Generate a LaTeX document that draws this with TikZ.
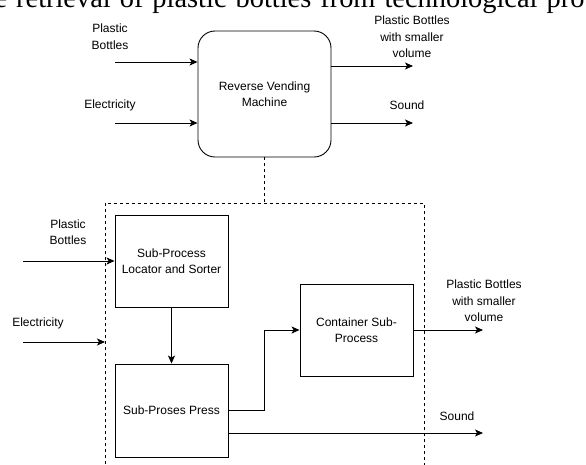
\documentclass[tikz,border=0pt]{standalone}
\usepackage{fontspec}
\setmainfont{Liberation Sans}
\newfontfamily\titlefont{Liberation Serif}
\usetikzlibrary{arrows.meta}
\begin{document}
\begin{tikzpicture}[x=1pt,y=-1pt,
  lbl/.style={font=\fontsize{12}{16.5}\selectfont, align=center, inner sep=0pt},
  proc/.style={draw, line width=0.9pt, minimum width=113pt, minimum height=92pt, inner sep=0pt, align=center, font=\fontsize{12}{16.5}\selectfont},
  flow/.style={line width=0.9pt, -{Stealth[length=8pt,width=7pt,inset=2pt]}},
  frame/.style={line width=0.8pt, dash pattern=on 3pt off 3pt}]
\useasboundingbox (0,0) rectangle (586,464);
\clip (0,0) rectangle (586,464);

% clipped caption line at the top
\node[anchor=base west, inner sep=0pt, font=\titlefont\fontsize{28.4}{30}\selectfont] (title) at (-5.6,7) {\spaceskip=9pt\relax e retrieval of plastic bottles from technological pro};

% top: overall machine
\node[draw, rounded corners=17pt, line width=0.9pt, minimum width=133pt, minimum height=126pt, align=center, font=\fontsize{12}{16.5}\selectfont] (rvm) at (264.5,94) {Reverse Vending\\Machine};

\node[lbl] (pbA) at (110,36.5) {Plastic\\Bottles};
\node[lbl] (elA) at (110,105) {Electricity};
\node[lbl] (outA) at (412,37) {Plastic Bottles\\with smaller\\volume};
\node[lbl] (sndA) at (407,105) {Sound};

\coordinate (inA1) at (115,62);
\coordinate (inA2) at (115,123);
\coordinate (outA1) at (413,66);
\coordinate (outA2) at (413,123);
\draw[flow] (inA1) -- (inA1 -| rvm.west);
\draw[flow] (inA2) -- (inA2 -| rvm.west);
\draw[flow] (outA1 -| rvm.east) -- (outA1);
\draw[flow] (outA2 -| rvm.east) -- (outA2);

% decomposition frame
\coordinate (frameTop) at (264.5,203);
\draw[frame] (105,470) -- (105,203) -- (424,203) -- (424,470);
\draw[frame] (rvm.south) -- (frameTop);

% sub-processes
\node[proc] (loc) at (171.5,261) {Sub-Process\\Locator and Sorter};
\node[proc, minimum height=93pt] (press) at (171.5,410.5) {Sub-Proses Press};
\node[proc] (cont) at (356.5,330) {Container Sub-\\Process};

\node[lbl] (pbB) at (68,232) {Plastic\\Bottles};
\node[lbl] (elB) at (38,323) {Electricity};
\node[lbl] (outB) at (484,301) {Plastic Bottles\\with smaller\\volume};
\node[lbl] (sndB) at (457,416) {Sound};

\coordinate (inB1) at (23,261);
\coordinate (inB2) at (23,342);
\coordinate (inB2end) at (105,342);
\coordinate (outB1) at (483,330);
\coordinate (outB2) at (483,433);

\draw[flow] (inB1) -- (loc.west);
\draw[flow] (inB2) -- (inB2end);
\draw[flow] (loc.south) -- (press.north);
\draw[flow] (press.east) -- ++(36,0) |- (cont.west);
\draw[flow] (cont.east) -- (outB1);
\draw[flow] (outB2 -| press.east) -- (outB2);
\end{tikzpicture}
\end{document}
